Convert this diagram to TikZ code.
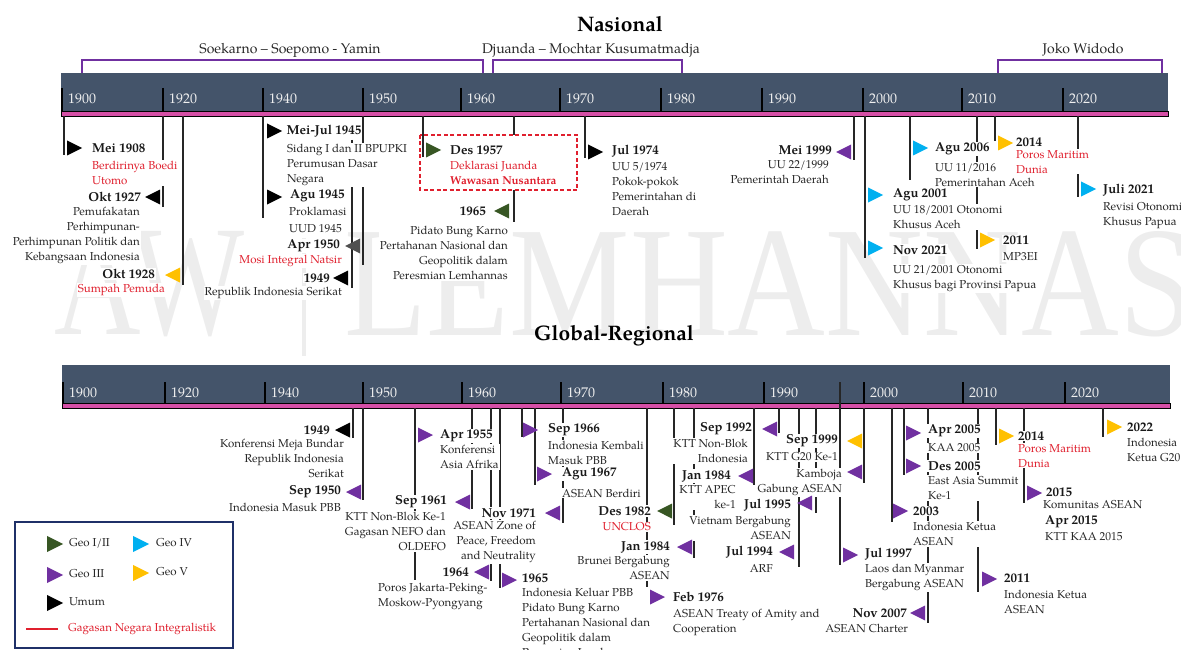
\documentclass[tikz,border=0pt]{standalone}
\usepackage{fontspec}
\usepackage{graphicx}
\setmainfont{TeX Gyre Pagella}
\newfontfamily\wmfont{Liberation Serif}

\definecolor{barblue}{HTML}{44546A}
\definecolor{barpink}{HTML}{D54FA6}
\definecolor{geoI}{HTML}{375623}
\definecolor{geoIII}{HTML}{7030A0}
\definecolor{geoIV}{HTML}{00B0F0}
\definecolor{geoV}{HTML}{FFC000}
\definecolor{umumgray}{HTML}{505050}
\definecolor{ideared}{HTML}{E0202E}
\definecolor{navy}{HTML}{1F3068}

\newcommand{\dtfont}{\fontsize{13}{15}\selectfont\bfseries}
\newcommand{\txfont}{\fontsize{11.5}{15}\selectfont}
\newcommand{\yrfont}{\fontsize{14}{16}\selectfont}

\tikzset{
  tri r/.pic={\path[pic actions] (0,-7.5) -- (0,7.5) -- (15,0) -- cycle;},
  tri l/.pic={\path[pic actions] (0,-7.5) -- (0,7.5) -- (-15,0) -- cycle;}
}

\begin{document}
\begin{tikzpicture}[x=1pt, y=-1pt,
  stem/.style={line width=1.1pt, black!85},
  tick/.style={line width=1.2pt, black},
  yr/.style={font=\yrfont, text=black!6, anchor=base west, inner sep=0pt},
  dt/.style={font=\dtfont, text=black!90, inner sep=1pt, fill=white},
  tx/.style={font=\txfont, text=black!85, inner sep=1pt, fill=white, align=left},
  txr/.style={tx, align=right},
  hl/.style={text=ideared},
  era/.style={geoIII, line width=2pt},
  eralbl/.style={font=\fontsize{14}{16}\selectfont, text=black!85, anchor=base},
  ttl/.style={font=\fontsize{21}{24}\selectfont\bfseries, anchor=base}]
  \useasboundingbox (0,0) rectangle (1181,650);
  % watermark
  \node[anchor=south west, inner sep=0pt, text=black!7] (wmaw) at (54,337) {\resizebox{190pt}{104pt}{\wmfont AW}};
  \node[anchor=south west, inner sep=0pt, text=black!7] (wmlem) at (344,337) {\resizebox{850pt}{104pt}{\wmfont LEMHANNAS}};
  \draw[black!7, line width=4pt] (304,238) -- (304,356);

  % Nasional
  \node[ttl] (nas) at (620,32) {Nasional};
  \draw[era] (82,73) -- (82,60) -- (483,60) -- (483,73);
  \draw[era] (493,73) -- (493,60) -- (682,60) -- (682,73);
  \draw[era] (998,73) -- (998,60) -- (1162,60) -- (1162,73);
  \node[eralbl] (eraA) at (290,54) {Soekarno – Soepomo - Yamin};
  \node[eralbl] (eraB) at (591,54) {Djuanda – Mochtar Kusumatmadja};
  \node[eralbl] (eraC) at (1083,54) {Joko Widodo};
  \fill[barblue] (61,73) rectangle (1168,111);
  \draw[black, line width=0.8pt, fill=barpink] (61,111) rectangle (1168,116);
  \draw[tick] (62,88) -- (62,111); \node[yr] (n1900) at (68,104) {1900};
  \draw[tick] (163,88) -- (163,111); \node[yr] (n1920) at (169,104) {1920};
  \draw[tick] (263,88) -- (263,111); \node[yr] (n1940) at (269,104) {1940};
  \draw[tick] (363,88) -- (363,111); \node[yr] (n1950) at (369,104) {1950};
  \draw[tick] (461,88) -- (461,111); \node[yr] (n1960) at (467,104) {1960};
  \draw[tick] (560,88) -- (560,111); \node[yr] (n1970) at (566,104) {1970};
  \draw[tick] (661,88) -- (661,111); \node[yr] (n1980) at (667,104) {1980};
  \draw[tick] (762,88) -- (762,111); \node[yr] (n1990) at (768,104) {1990};
  \draw[tick] (863,88) -- (863,111); \node[yr] (n2000) at (869,104) {2000};
  \draw[tick] (962,88) -- (962,111); \node[yr] (n2010) at (968,104) {2010};
  \draw[tick] (1063,88) -- (1063,111); \node[yr] (n2020) at (1069,104) {2020};

  \draw[stem] (64,116) -- (64,155);   \draw[stem] (163,116) -- (163,207);
  \draw[stem] (183,116) -- (183,285); \draw[stem] (263,116) -- (263,218);
  \draw[stem] (363,116) -- (363,265); \draw[stem] (352,140) -- (352,288);
  \draw[stem] (514,116) -- (514,222); \draw[stem] (585,116) -- (585,158);
  \draw[stem] (854,116) -- (854,160); \draw[stem] (865,116) -- (865,258);
  \draw[stem] (910,116) -- (910,180); \draw[stem] (977,116) -- (977,249);
  \draw[stem] (995,116) -- (995,141); \draw[stem] (1078,116) -- (1078,197);
  \draw[ideared, line width=1.3pt, dash pattern=on 4pt off 2.5pt, fill=white] (420,135) rectangle (577,190);
  \draw[stem] (423,116) -- (423,157);

  \node[dt, anchor=west] (d1908) at (91,148) {Mei 1908};
  \node[tx, hl, anchor=north west] (t1908) at (91,160) {Berdirinya Boedi\\Utomo};
  \node[dt, anchor=east] (d1927) at (142,197) {Okt 1927};
  \node[txr, anchor=north east] (t1927) at (141,206) {Pemufakatan\\Perhimpunan-\\Perhimpunan Politik dan\\Kebangsaan Indonesia};
  \node[dt, anchor=east] (d1928) at (156,274) {Okt 1928};
  \node[tx, hl, anchor=east] (t1928) at (166,290) {Sumpah Pemuda};
  \node[dt, anchor=west, inner sep=0.5pt] (d1945a) at (286,131) {Mei-Jul 1945};
  \node[tx, anchor=north west] (t1945a) at (286,143) {Sidang I dan II BPUPKI\\Perumusan Dasar\\Negara};
  \node[dt, anchor=west] (d1945b) at (289,196) {Agu 1945};
  \node[tx, anchor=north west] (t1945b) at (288,206) {Proklamasi\\[2pt]UUD 1945};
  \node[dt, anchor=east] (d1950) at (341,246) {Apr 1950};
  \node[tx, hl, anchor=east] (t1950) at (343,261) {Mosi Integral Natsir};
  \node[dt, anchor=east] (d1949) at (331,278) {1949};
  \node[tx, anchor=east] (t1949) at (343,293) {Republik Indonesia Serikat};
  \node[dt, anchor=west] (d1957) at (449,150) {Des 1957};
  \node[tx, hl, anchor=north west] (t1957) at (449,160) {Deklarasi Juanda\\\textbf{Wawasan Nusantara}};
  \node[dt, anchor=east] (d1965) at (487,211) {1965};
  \node[txr, anchor=north east] (t1965) at (509,225) {Pidato Bung Karno\\Pertahanan Nasional dan\\Geopolitik dalam\\Peresmian Lemhannas};
  \node[dt, anchor=west] (d1974) at (611,151) {Jul 1974};
  \node[tx, anchor=north west] (t1974) at (611,161) {UU 5/1974\\Pokok-pokok\\Pemerintahan di\\Daerah};
  \node[dt, anchor=east] (d1999) at (833,150) {Mei 1999};
  \node[txr, anchor=north east] (t1999) at (830,159) {UU 22/1999\\Pemerintah Daerah};
  \node[dt, anchor=west] (d2001) at (892,195) {Agu 2001};
  \node[tx, anchor=north west] (t2001) at (892,204) {UU 18/2001 Otonomi\\Khusus Aceh};
  \node[dt, anchor=west] (d2021n) at (892,250) {Nov 2021};
  \node[tx, anchor=north west] (t2021n) at (892,264) {UU 21/2001 Otonomi\\Khusus bagi Provinsi Papua};
  \node[dt, anchor=west] (d2006) at (934,149) {Agu 2006};
  \node[tx, anchor=north west] (t2006) at (934,162) {UU 11/2016\\Pemerintahan Aceh};
  \node[dt, anchor=west] (d2011) at (1002,240) {2011};
  \node[tx, anchor=west] (t2011) at (1002,257) {MP3EI};
  \node[dt, anchor=west] (d2014) at (1015,142) {2014};
  \node[tx, hl, anchor=north west] (t2014) at (1015,149) {Poros Maritim\\Dunia};
  \node[dt, anchor=west] (d2021j) at (1102,190) {Juli 2021};
  \node[tx, anchor=north west] (t2021j) at (1102,201) {Revisi Otonomi\\Khusus Papua};

  \pic[fill=black] at (67,148) {tri r};    \pic[fill=black] at (160,197) {tri l};
  \pic[fill=geoV] at (180,275) {tri l};    \pic[fill=black] at (267,131) {tri r};
  \pic[fill=black] at (267,197) {tri r};   \pic[fill=umumgray] at (360,246) {tri l};
  \pic[fill=black] at (348,278) {tri l};   \pic[fill=geoI] at (426,150) {tri r};
  \pic[fill=geoI] at (509,211) {tri l};    \pic[fill=black] at (588,152) {tri r};
  \pic[fill=geoIII] at (851,152) {tri l};  \pic[fill=geoIV] at (868,195) {tri r};
  \pic[fill=geoIV] at (868,248) {tri r};   \pic[fill=geoIV] at (913,148) {tri r};
  \pic[fill=geoV] at (980,240) {tri r};    \pic[fill=geoV] at (998,143) {tri r};
  \pic[fill=geoIV] at (1081,189) {tri r};

  % Global-Regional
  \node[ttl] (glob) at (614,340) {Global-Regional};
  \fill[barblue] (62,365) rectangle (1170,403);
  \draw[black, line width=0.8pt, fill=barpink] (62,403) rectangle (1170,408);
  \draw[tick] (63,382) -- (63,403); \node[yr] (g1900) at (69,397) {1900};
  \draw[tick] (165,382) -- (165,403); \node[yr] (g1920) at (171,397) {1920};
  \draw[tick] (265,382) -- (265,403); \node[yr] (g1940) at (271,397) {1940};
  \draw[tick] (363,382) -- (363,403); \node[yr] (g1950) at (369,397) {1950};
  \draw[tick] (462,382) -- (462,403); \node[yr] (g1960) at (468,397) {1960};
  \draw[tick] (561,382) -- (561,403); \node[yr] (g1970) at (567,397) {1970};
  \draw[tick] (663,382) -- (663,403); \node[yr] (g1980) at (669,397) {1980};
  \draw[tick] (764,382) -- (764,403); \node[yr] (g1990) at (770,397) {1990};
  \draw[tick] (864,382) -- (864,403); \node[yr] (g2000) at (870,397) {2000};
  \draw[tick] (963,382) -- (963,403); \node[yr] (g2010) at (969,397) {2010};
  \draw[tick] (1065,382) -- (1065,403); \node[yr] (g2020) at (1071,397) {2020};

  \draw[stem] (353,408) -- (353,438);  \draw[stem] (363,408) -- (363,500);
  \draw[stem] (415,408) -- (415,580);  \draw[stem] (472,408) -- (472,509);
  \draw[stem] (491,408) -- (491,581);  \draw[stem] (500,408) -- (500,588);
  \draw[stem] (522,408) -- (522,437);  \draw[stem] (535,408) -- (535,485);
  \draw[stem] (563,408) -- (563,523);  \draw[stem] (647,408) -- (647,600);
  \draw[stem] (674,408) -- (674,525);  \draw[stem] (694,408) -- (694,558);
  \draw[stem] (754,408) -- (754,485);  \draw[stem] (779,408) -- (779,433);
  \draw[stem] (799,408) -- (799,567);  \draw[stem] (816,408) -- (816,513);
  \draw[stem] (840,382) -- (840,565);  \draw[stem] (864,408) -- (864,483);
  \draw[stem] (892,408) -- (892,522);  \draw[stem] (904,408) -- (904,475);
  \draw[stem] (928,408) -- (928,623);  \draw[stem] (978,408) -- (978,592);
  \draw[stem] (996,408) -- (996,445);  \draw[stem] (1024,408) -- (1024,503);
  \draw[stem] (1103,408) -- (1103,437);

  \node[dt, anchor=east] (e1949) at (331,430) {1949};
  \node[txr, anchor=north east] (f1949) at (345,438) {Konferensi Meja Bundar\\Republik Indonesia\\Serikat};
  \node[dt, anchor=east] (e1950) at (342,492) {Sep 1950};
  \node[tx, anchor=east] (f1950) at (342,507) {Indonesia Masuk PBB};
  \node[dt, anchor=west] (e1955) at (439,436) {Apr 1955};
  \node[tx, anchor=north west] (f1955) at (439,444) {Konferensi\\Asia Afrika};
  \node[dt, anchor=east] (e1961) at (448,502) {Sep 1961};
  \node[txr, anchor=north east] (f1961) at (447,511) {KTT Non-Blok Ke-1\\Gagasan NEFO dan\\OLDEFO};
  \node[dt, anchor=east] (e1971) at (537,513) {Nov 1971};
  \node[txr, anchor=north east] (f1971) at (537,520) {ASEAN Zone of\\Peace, Freedom\\and Neutrality};
  \node[dt, anchor=east] (e1964) at (470,572) {1964};
  \node[tx, anchor=north west] (f1964) at (377,582) {Poros Jakarta-Peking-\\Moskow-Pyongyang};
  \node[dt, anchor=west] (e1965) at (521,578) {1965};
  \node[tx, anchor=north west] (f1965) at (521,587) {Indonesia Keluar PBB\\Pidato Bung Karno\\Pertahanan Nasional dan\\Geopolitik dalam\\Peresmian Lemhannas};
  \node[dt, anchor=west] (e1966) at (547,430) {Sep 1966};
  \node[tx, anchor=north west] (f1966) at (547,440) {Indonesia Kembali\\Masuk PBB};
  \node[dt, anchor=west] (e1967) at (561,474) {Agu 1967};
  \node[tx, anchor=west] (f1967) at (561,493) {ASEAN Berdiri};
  \node[dt, anchor=east] (e1982) at (652,511) {Des 1982};
  \node[tx, hl, anchor=east] (f1982) at (652,527) {UNCLOS};
  \node[dt, anchor=east] (e1984b) at (671,547) {Jan 1984};
  \node[txr, anchor=north east] (f1984b) at (671,555) {Brunei Bergabung\\ASEAN};
  \node[dt, anchor=west] (e1976) at (672,597) {Feb 1976};
  \node[tx, anchor=north west] (f1976) at (672,608) {ASEAN Treaty of Amity and\\Cooperation};
  \node[dt, anchor=east] (e1992) at (753,429) {Sep 1992};
  \node[txr, anchor=north east] (f1992) at (749,438) {KTT Non-Blok\\Indonesia};
  \node[dt, anchor=east] (e1984a) at (732,476) {Jan 1984};
  \node[txr, anchor=north east] (f1984a) at (737,484) {KTT APEC\\ke-1};
  \node[dt, anchor=east] (e1995) at (792,505) {Jul 1995};
  \node[txr, anchor=north east] (f1995) at (792,515) {Vietnam Bergabung\\ASEAN};
  \node[dt, anchor=east] (e1994) at (774,552) {Jul 1994};
  \node[tx, anchor=east] (f1994) at (774,568) {ARF};
  \node[dt, anchor=east] (e1999) at (839,441) {Sep 1999};
  \node[tx, anchor=east] (f1999) at (839,457) {KTT G20 Ke-1};
  \node[txr, anchor=north east] (f1999k) at (843,468) {Kamboja\\Gabung ASEAN};
  \node[dt, anchor=west] (e1997) at (864,554) {Jul 1997};
  \node[tx, anchor=north west] (f1997) at (864,563) {Laos dan Myanmar\\Bergabung ASEAN};
  \node[dt, anchor=east] (e2007) at (908,613) {Nov 2007};
  \node[tx, anchor=east] (f2007) at (909,628) {ASEAN Charter};
  \node[dt, anchor=west] (e2003) at (912,511) {2003};
  \node[tx, anchor=north west] (f2003) at (912,521) {Indonesia Ketua\\ASEAN};
  \node[dt, anchor=west] (e2005a) at (927,431) {Apr 2005};
  \node[tx, anchor=west] (f2005a) at (927,448) {KAA 2005};
  \node[dt, anchor=west] (e2005d) at (927,466) {Des 2005};
  \node[tx, anchor=north west] (f2005d) at (927,475) {East Asia Summit\\Ke-1};
  \node[dt, anchor=west] (e2014) at (1017,436) {2014};
  \node[tx, hl, anchor=north west] (f2014) at (1017,443) {Poros Maritim\\Dunia};
  \node[dt, anchor=west] (e2015) at (1045,492) {2015};
  \node[tx, anchor=west] (f2015) at (1042,505) {Komunitas ASEAN};
  \node[dt, anchor=west] (e2015a) at (1044,522) {Apr 2015};
  \node[tx, anchor=west] (f2015a) at (1044,537) {KTT KAA 2015};
  \node[dt, anchor=west] (e2011) at (1003,578) {2011};
  \node[tx, anchor=north west] (f2011) at (1003,589) {Indonesia Ketua\\ASEAN};
  \node[dt, anchor=west] (e2022) at (1126,427) {2022};
  \node[tx, anchor=north west] (f2022) at (1126,437) {Indonesia\\Ketua G20};

  \pic[fill=black] at (350,430) {tri l};   \pic[fill=geoIII] at (361,492) {tri l};
  \pic[fill=geoIII] at (418,435) {tri r};  \pic[fill=geoIII] at (470,502) {tri l};
  \pic[fill=geoIII] at (489,572) {tri l};  \pic[fill=geoIII] at (502,580) {tri r};
  \pic[fill=geoIII] at (523,430) {tri r};  \pic[fill=geoIII] at (537,474) {tri r};
  \pic[fill=geoIII] at (560,513) {tri l};  \pic[fill=geoI] at (672,511) {tri l};
  \pic[fill=geoIII] at (692,547) {tri l};  \pic[fill=geoIII] at (650,597) {tri r};
  \pic[fill=geoIII] at (753,476) {tri l};  \pic[fill=geoIII] at (777,429) {tri l};
  \pic[fill=geoIII] at (812,503) {tri l};  \pic[fill=geoIII] at (794,552) {tri l};
  \pic[fill=geoV] at (862,441) {tri l};    \pic[fill=geoIII] at (862,472) {tri l};
  \pic[fill=geoIII] at (843,555) {tri r};  \pic[fill=geoIII] at (893,511) {tri r};
  \pic[fill=geoIII] at (906,433) {tri r};  \pic[fill=geoIII] at (906,466) {tri r};
  \pic[fill=geoIII] at (925,613) {tri l};  \pic[fill=geoIII] at (982,579) {tri r};
  \pic[fill=geoV] at (999,436) {tri r};    \pic[fill=geoIII] at (1027,493) {tri r};
  \pic[fill=geoV] at (1107,427) {tri r};

  % legend
  \draw[navy, line width=2pt, fill=white] (15,522) rectangle (233,648);
  \pic[fill=geoI, scale=1.07] at (47,544) {tri r};   \node[tx, anchor=west] (lg1) at (68,543) {Geo I/II};
  \pic[fill=geoIV, scale=1.07] at (133,544) {tri r}; \node[tx, anchor=west] (lg4) at (155,543) {Geo IV};
  \pic[fill=geoIII, scale=1.07] at (47,575) {tri r}; \node[tx, anchor=west] (lg3) at (68,574) {Geo III};
  \pic[fill=geoV, scale=1.07] at (133,573) {tri r};  \node[tx, anchor=west] (lg5) at (155,572) {Geo V};
  \pic[fill=black, scale=1.07] at (47,603) {tri r};  \node[tx, anchor=west] (lgu) at (68,602) {Umum};
  \draw[ideared, line width=1.2pt] (26,629) -- (58,629);
  \node[tx, hl, anchor=west] (lgg) at (67,629) {Gagasan Negara Integralistik};
\end{tikzpicture}
\end{document}
